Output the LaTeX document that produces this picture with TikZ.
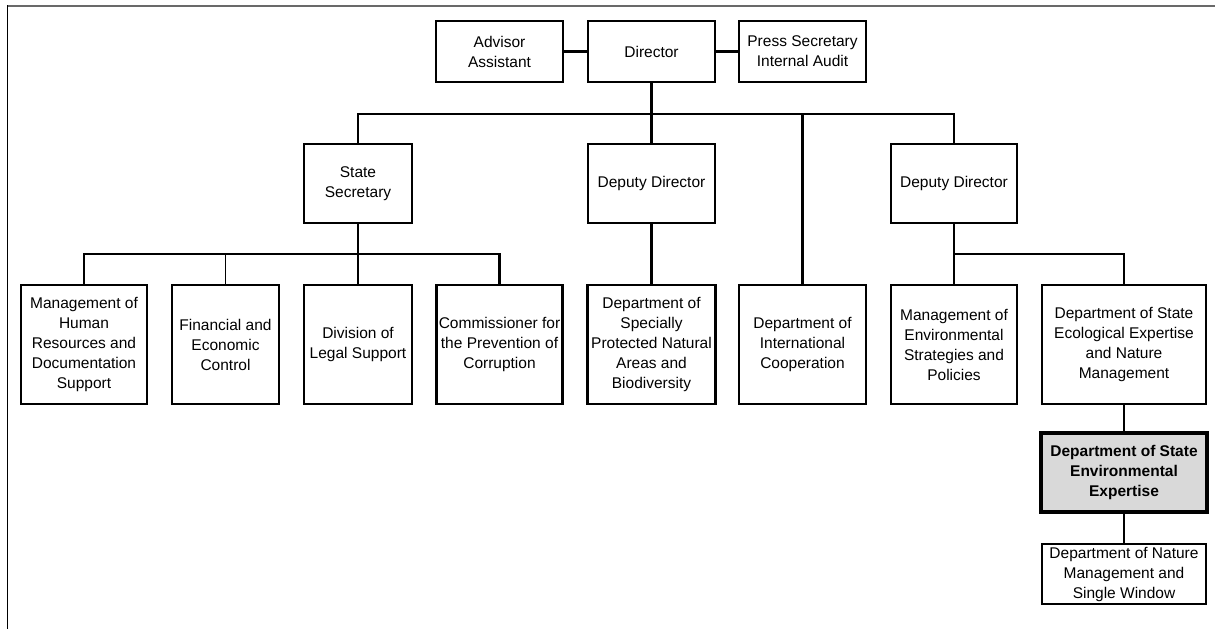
\documentclass[tikz,border=0pt]{standalone}
\usepackage{fontspec}
\setmainfont{Liberation Sans}

\definecolor{framegray}{RGB}{105,105,105}
\definecolor{markgray}{RGB}{217,217,217}

\tikzset{
  unit/.style={draw, line width=2.4pt, align=center, inner sep=0pt, font=\fontsize{15.5}{20}\selectfont},
  markunit/.style={unit, line width=3.4pt, fill=markgray, font=\fontsize{15.5}{20}\selectfont\bfseries},
  link/.style={line width=2.2pt},
}

\begin{document}
\begin{tikzpicture}[x=1pt, y=-1pt]

\useasboundingbox(0,0) rectangle (1215,629);

% frame
\draw[framegray, line width=2pt](7,5.5)--(1215,5.5);
\draw[line width=1.5pt](7.5,5)--(7.5,629);

% top row
\node[unit, minimum width=127, minimum height=61](adv) at (499.5,51.5){Advisor\\Assistant};
\node[unit, minimum width=127, minimum height=61](dir) at (651.5,51.5){Director};
\node[unit, minimum width=127, minimum height=61](press) at (802.5,51.5){Press Secretary\\Internal Audit};

% second row
\node[unit, minimum width=108, minimum height=79](ss) at (358,183.5){State\\Secretary};
\node[unit, minimum width=127, minimum height=79](dd1) at (651.5,183.5){Deputy Director};
\node[unit, minimum width=126, minimum height=79](dd2) at (954,183.5){Deputy Director};

% third row
\node[unit, minimum width=126, minimum height=119](hr) at (84,344.5){Management of\\Human\\Resources and\\Documentation\\Support};
\node[unit, minimum width=107, minimum height=119](fin) at (225.5,344.5){Financial and\\Economic\\Control};
\node[unit, minimum width=108, minimum height=119](legal) at (358,344.5){Division of\\Legal Support};
\node[unit, minimum width=126, minimum height=119](comm) at (499.5,344.5){Commissioner for\\the Prevention of\\Corruption};
\node[unit, minimum width=128, minimum height=119](spa) at (651.5,344.5){Department of\\Specially\\Protected Natural\\Areas and\\Biodiversity};
\node[unit, minimum width=127, minimum height=119](intl) at (802.5,344.5){Department of\\International\\Cooperation};
\node[unit, minimum width=126, minimum height=119](env) at (954,344.5){Management of\\Environmental\\Strategies and\\Policies};
\node[unit, minimum width=164, minimum height=119](eco) at (1124,344.5){Department of State\\Ecological Expertise\\and Nature\\Management};

% lower column
\node[markunit, minimum width=166, minimum height=79](exp) at (1124,472.5){Department of State\\Environmental\\Expertise};
\node[unit, minimum width=164, minimum height=60](nat) at (1124,574){Department of Nature\\Management and\\Single Window};

% bus points
\coordinate(b1) at (651.5,114);
\coordinate(b2) at (358,254);
\coordinate(b3) at (954,254);

% connectors
\draw[link](adv)--(dir);
\draw[link](dir)--(press);
\draw[link](dir.south)--(dd1.north);
\draw[link](ss.north)--(ss.north|-b1)--(dd2.north|-b1)--(dd2.north);
\draw[link](intl.north)--(intl.north|-b1);

\draw[link](ss.south)--(legal.north);
\draw[link](hr.north)--(hr.north|-b2)--(comm.north|-b2)--(comm.north);
\draw[line width=1pt](fin.north)--(fin.north|-b2);

\draw[link](dd1.south)--(spa.north);

\draw[link](dd2.south)--(env.north);
\draw[link](b3)--(eco.north|-b3)--(eco.north);

\draw[link](eco.south)--(exp.north);
\draw[link](exp.south)--(nat.north);

\end{tikzpicture}
\end{document}
